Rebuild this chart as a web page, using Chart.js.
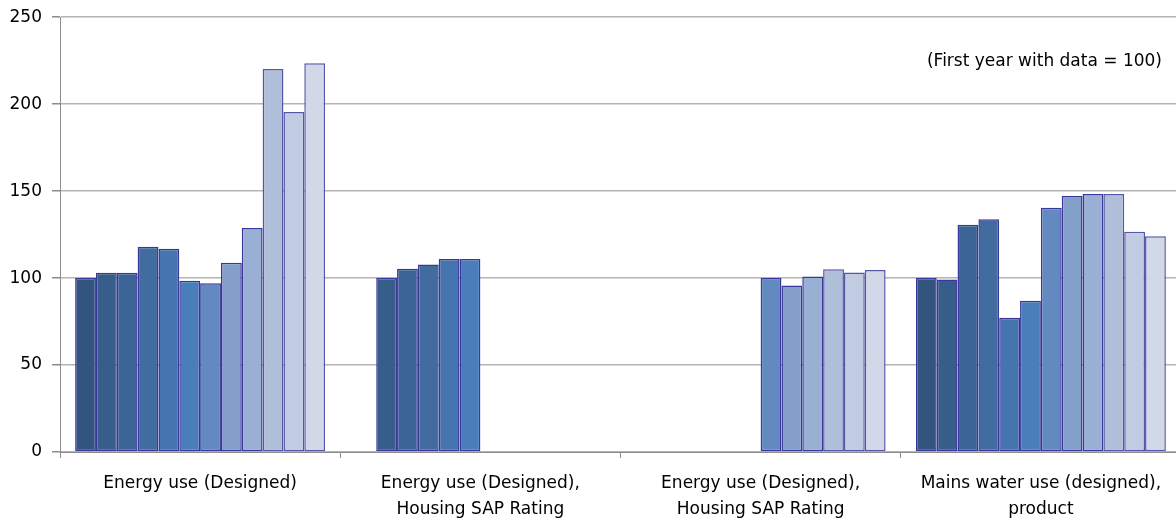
<!DOCTYPE html>
<html>
<head>
<meta charset="utf-8">
<script src="https://cdn.jsdelivr.net/npm/chart.js@4"></script>
<style>
  html, body { margin: 0; padding: 0; background: #ffffff; overflow: hidden; }
  #wrap { width: 1181px; height: 522px; position: relative; }
</style>
</head>
<body>
<div id="wrap"><canvas id="c"></canvas></div>
<script>
// Categories (multi-line labels)
const categories = [
  "Energy use (Designed)",
  ["Energy use (Designed),", "Housing SAP Rating"],
  ["Energy use (Designed),", "Housing SAP Rating"],
  ["Mains water use (designed),", "product"]
];

// Index values per year (first year with data = 100); null = no data
const year01 = [100,   null,  null,  100];
const year02 = [103,   100,   null,  99.2];
const year03 = [103,   105.3, null,  130.7];
const year04 = [118,   107.8, null,  133.8];
const year05 = [116.8, 111,   null,  77.2];
const year06 = [98.4,  111,   null,  87];
const year07 = [97.1,  null,  100,   140.5];
const year08 = [108.8, null,  95.8,  147.2];
const year09 = [128.8, null,  100.9, 148.3];
const year10 = [220.2, null,  105.1, 148.3];
const year11 = [195.5, null,  103.2, 126.7];
const year12 = [223.6, null,  104.7, 124];

const seriesValues = [year01, year02, year03, year04, year05, year06,
                      year07, year08, year09, year10, year11, year12];
const seriesColors = ["#32547e", "#375d8a", "#3c6496", "#426ca0", "#4674ae", "#4a7ebb",
                      "#6389c1", "#839fca", "#9aafd4", "#afbfd9", "#c1cbe2", "#d1d8e7"];

const yTicks = [0, 50, 100, 150, 200, 250];
const noteText = "(First year with data = 100)";

const FONT = "'DejaVu Sans', 'Liberation Sans', sans-serif";

const datasets = seriesValues.map((vals, i) => ({
  label: "Year " + (i + 1),
  data: vals,
  backgroundColor: seriesColors[i],
  borderColor: i >= 9 ? "#5656a8" : "#38389a",
  borderWidth: 1.5,
  borderSkipped: false,
  categoryPercentage: 0.892,
  barPercentage: 1.0
}));

const notePlugin = {
  id: "note",
  afterDraw(chart) {
    const { ctx } = chart;
    ctx.save();
    ctx.font = "17px " + FONT;
    ctx.fillStyle = "#000000";
    ctx.textAlign = "right";
    ctx.textBaseline = "middle";
    ctx.fillText(noteText, 1162, chart.scales.y.getPixelForValue(224.5));
    ctx.restore();
  }
};

new Chart(document.getElementById("c"), {
  type: "bar",
  data: { labels: categories, datasets },
  plugins: [notePlugin],
  options: {
    responsive: true,
    maintainAspectRatio: false,
    animation: false,
    layout: { padding: { top: 0, right: 0, left: 0, bottom: 0 } },
    plugins: { legend: { display: false }, tooltip: { enabled: false } },
    scales: {
      x: {
        offset: true,
        grid: {
          offset: true,
          drawOnChartArea: false,
          drawTicks: true,
          tickLength: 6,
          color: "#8c8c8c",
          lineWidth: 1
        },
        border: { display: true, color: "#8c8c8c", width: 1 },
        ticks: {
          color: "#000000",
          font: { family: FONT, size: 17, lineHeight: 1.5 },
          padding: 13,
          maxRotation: 0,
          autoSkip: false
        },
        afterFit(scale) { scale.height = 70; }
      },
      y: {
        min: 0,
        max: 250,
        afterBuildTicks(scale) { scale.ticks = yTicks.map(v => ({ value: v })); },
        grid: {
          color: "#b4b4b4",
          lineWidth: 1.5,
          drawTicks: true,
          tickLength: 8,
          tickColor: "#8c8c8c"
        },
        border: { display: true, color: "#8c8c8c", width: 1 },
        ticks: {
          color: "#000000",
          font: { family: FONT, size: 17, lineHeight: 0.85 },
          padding: 10
        },
        afterFit(scale) { scale.width = 60; }
      }
    }
  }
});
</script>
</body>
</html>
